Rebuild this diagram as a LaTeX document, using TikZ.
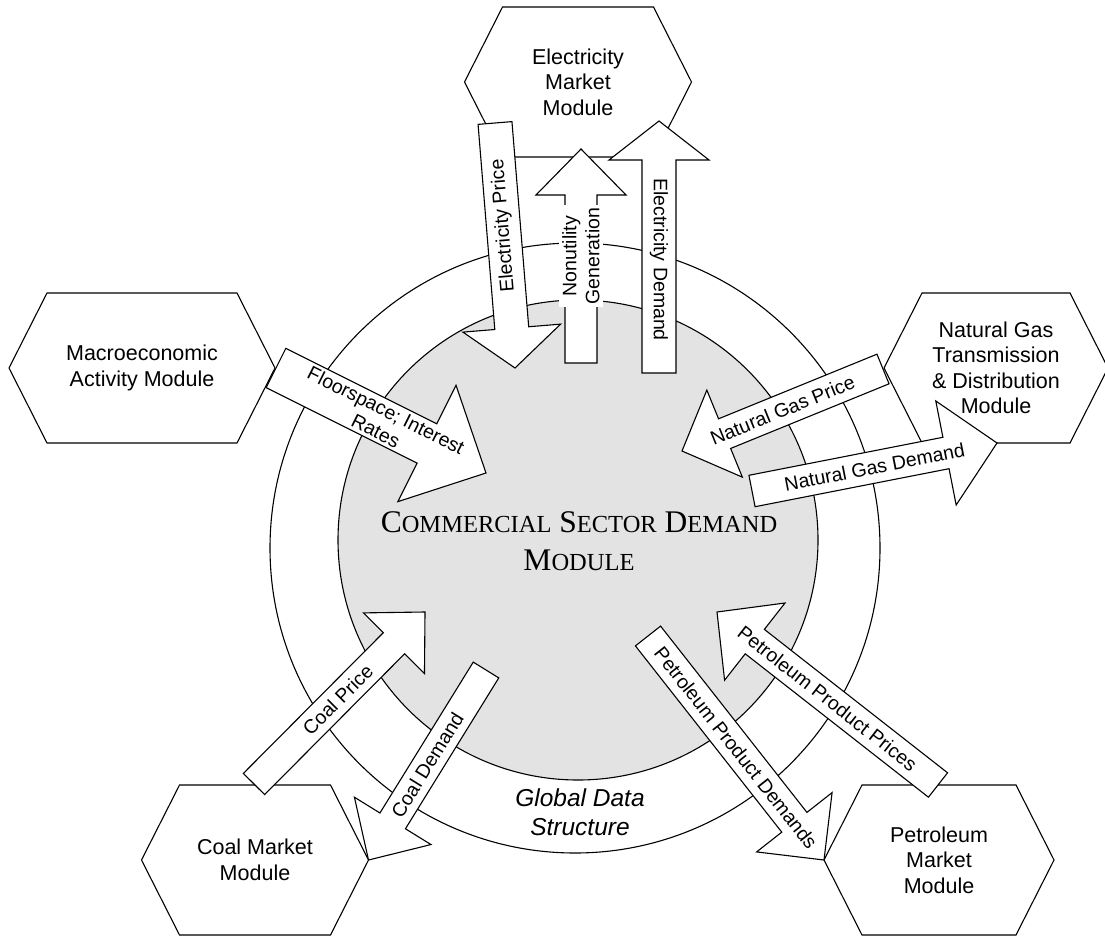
\documentclass[tikz,border=0pt]{standalone}
\usepackage{fontspec}
\setmainfont{Liberation Sans}
\newfontfamily\timesfont{Liberation Serif}
\usepackage{tikz}
\usetikzlibrary{calc, backgrounds, positioning}
\definecolor{fond}{RGB}{227,227,227}
\tikzstyle{module} = [align = center, inner sep = 0pt, font = \fontsize{21.5}{25.5}\selectfont]
\tikzstyle{hexline} = [draw = black, fill = white, line width = 1.1pt]
\tikzstyle{bloc} = [draw = black, fill = white, line width = 1.1pt]
\tikzstyle{arrowtext} = [align = center, inner sep = 0pt, font = \fontsize{19.5}{23}\selectfont]
% hexagon round a node: node, half width
\newcommand{\hexshape}[2]{\draw[hexline] ($(#1)+(-#2,0)$) -- ($(#1)+({-#2+38},-75)$) -- ($(#1)+({#2-38},-75)$) -- ($(#1)+(#2,0)$) -- ($(#1)+({#2-38},75)$) -- ($(#1)+({-#2+38},75)$) -- cycle;}
% block arrow: tail, tip, half body, half head, head length
\newcommand{\blockarrow}[5]{\coordinate (base) at ($(#2)!#5!(#1)$);
\draw[bloc] ($(#1)!#3!90:(#2)$) -- ($(base)!#3!90:(#2)$) -- ($(base)!#4!90:(#2)$) -- (#2) -- ($(base)!#4!-90:(#2)$) -- ($(base)!#3!-90:(#2)$) -- ($(#1)!#3!-90:(#2)$) -- cycle;}
\newcommand{\fakesc}[2]{{\fontsize{31.5}{38}\selectfont #1}{\fontsize{24.5}{38}\selectfont #2}}

\begin{document}
\begin{tikzpicture}[x = 1pt, y = -1pt]
\useasboundingbox (0,0) rectangle (1105,936);

\node (elec) [module] at (578,82) {Electricity\\Market\\Module};
\node (macro) [module] at (142,368) {Macroeconomic\\Activity Module};
\node (gas) [module] at (996,368) {Natural Gas\\Transmission\\\& Distribution\\Module};
\node (coal) [module] at (255,860) {Coal Market\\Module};
\node (petro) [module] at (939,860) {Petroleum\\Market\\Module};
\node (core) [align = center, inner sep = 0pt, font = \timesfont\fontsize{31.5}{38}\selectfont] at (579,541) {\fakesc{C}{OMMERCIAL} \fakesc{S}{ECTOR} \fakesc{D}{EMAND}\\\fakesc{M}{ODULE}};
\node (gds) [align = center, inner sep = 0pt, font = \itshape\fontsize{24.5}{29}\selectfont] at (580,812) {Global Data\\Structure};

\coordinate (ep1) at (495,123); \coordinate (ep2) at (515,368);
\coordinate (nu1) at (581,363); \coordinate (nu2) at (581,149);
\coordinate (ed1) at (659,373); \coordinate (ed2) at (659,121);
\coordinate (fs1) at (276,368); \coordinate (fs2) at (486,473);
\coordinate (gp1) at (883,369); \coordinate (gp2) at (682,451);
\coordinate (gd1) at (752,491); \coordinate (gd2) at (997,443);
\coordinate (cp1) at (254,784); \coordinate (cp2) at (425,612);
\coordinate (cd1) at (486,670); \coordinate (cd2) at ($(coal)+(113.5,0)$);
\coordinate (pd1) at (648,636); \coordinate (pd2) at ($(petro)+(-115,0)$);
\coordinate (pp1) at (938,785); \coordinate (pp2) at (717,612);

\begin{scope}[on background layer]
\draw[hexline] (575,548) circle [radius = 305pt];
\draw[hexline, fill = fond] (578,540) circle [radius = 240pt];
\hexshape{elec}{113.5}
\hexshape{macro}{133}
\hexshape{gas}{112}
\hexshape{coal}{113.5}
\hexshape{petro}{115}
\blockarrow{ep1}{ep2}{17pt}{49pt}{40pt}
\blockarrow{nu1}{nu2}{16pt}{45pt}{46pt}
\blockarrow{ed1}{ed2}{17pt}{50pt}{39pt}
\blockarrow{fs1}{fs2}{22pt}{65pt}{66pt}
\blockarrow{gp1}{gp2}{16pt}{47pt}{46pt}
\blockarrow{gd1}{gd2}{16pt}{53pt}{52pt}
\blockarrow{cp1}{cp2}{15pt}{43pt}{44pt}
\blockarrow{cd1}{cd2}{15pt}{45pt}{46pt}
\blockarrow{pd1}{pd2}{16pt}{48pt}{48pt}
\blockarrow{pp1}{pp2}{15.5pt}{49pt}{48pt}
\end{scope}

\node (t-ep) [arrowtext, rotate = 94.7] at ($(ep1)!0.42!(ep2)$) {Electricity Price};
\node (t-nu) [arrowtext, rotate = 90, fill = white, inner sep = 3pt] at ($(nu1)!0.5!(nu2)$) {Nonutility\\Generation};
\node (t-ed) [arrowtext, rotate = -90] at ($(ed1)!0.45!(ed2)$) {Electricity Demand};
\node (t-fs) [arrowtext, rotate = -26.6] at ($(fs1)!0.5!(fs2)$) {Floorspace; Interest\\Rates};
\node (t-gp) [arrowtext, rotate = 22.2] at ($(gp1)!0.5!(gp2)$) {Natural Gas Price};
\node (t-gd) [arrowtext, rotate = 11.1] at ($(gd1)!0.5!(gd2)$) {Natural Gas Demand};
\node (t-cp) [arrowtext, rotate = 45] at ($(cp1)!0.49!(cp2)$) {Coal Price};
\node (t-cd) [arrowtext, rotate = 58.2] at ($(cd1)!0.5!(cd2)$) {Coal Demand};
\node (t-pd) [arrowtext, rotate = -51.8] at ($(pd1)!0.5!(pd2)$) {Petroleum Product Demands};
\node (t-pp) [arrowtext, rotate = -38] at ($(pp1)!0.5!(pp2)$) {Petroleum Product Prices};
\end{tikzpicture}
\end{document}
